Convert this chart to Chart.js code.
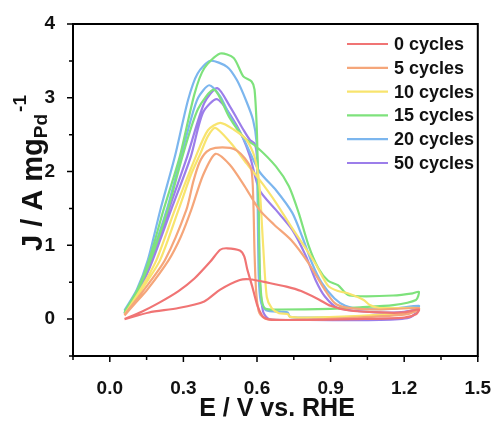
<!DOCTYPE html>
<html>
<head>
<meta charset="utf-8">
<script src="https://cdn.jsdelivr.net/npm/chart.js@4.4.1/dist/chart.umd.min.js"></script>
<style>
  body { margin: 0; background: #fff; }
  #wrap { width: 504px; height: 428px; }
</style>
</head>
<body>
<div id="wrap"><canvas id="cv" width="504" height="428"></canvas></div>
<script>
// CV loops, [E (V vs RHE), J (A/mgPd)] - forward scan then backward scan
const cycles0 = [[0.06,0.00],[0.16,0.09],[0.28,0.15],[0.385,0.24],[0.45,0.40],[0.53,0.53],[0.57,0.54],[0.65,0.49],[0.72,0.44],[0.78,0.38],[0.85,0.27],[0.90,0.18],[0.97,0.12],[1.10,0.09],[1.20,0.09],[1.26,0.13],
  [1.25,0.07],[1.20,0.02],[1.00,0.00],[0.80,-0.01],[0.66,-0.01],[0.635,0.01],[0.62,0.05],[0.60,0.20],[0.58,0.45],[0.56,0.68],[0.548,0.85],[0.53,0.93],[0.478,0.96],[0.45,0.94],[0.41,0.78],[0.345,0.55],[0.28,0.38],[0.20,0.22],[0.13,0.10],[0.06,0.00]];
const cycles5 = [[0.06,0.05],[0.10,0.20],[0.153,0.40],[0.24,0.80],[0.29,1.12],[0.332,1.48],[0.38,1.95],[0.431,2.24],[0.49,2.09],[0.55,1.80],[0.61,1.48],[0.67,1.28],[0.74,1.07],[0.81,0.76],[0.876,0.40],[0.916,0.22],[0.96,0.16],[1.09,0.13],[1.26,0.15],
  [1.25,0.11],[1.20,0.06],[1.00,0.02],[0.80,-0.01],[0.64,0.00],[0.61,0.08],[0.597,0.35],[0.59,0.90],[0.585,1.60],[0.577,2.03],[0.55,2.18],[0.52,2.28],[0.49,2.32],[0.43,2.32],[0.395,2.27],[0.365,2.12],[0.34,1.86],[0.312,1.48],[0.225,0.80],[0.14,0.40],[0.06,0.06]];
const cycles10 = [[0.06,0.06],[0.13,0.40],[0.205,0.80],[0.28,1.48],[0.33,1.95],[0.37,2.25],[0.40,2.48],[0.431,2.59],[0.505,2.34],[0.557,2.11],[0.61,1.89],[0.677,1.58],[0.74,1.25],[0.80,0.95],[0.84,0.74],[0.89,0.45],[0.93,0.38],[0.97,0.35],[1.035,0.26],[1.06,0.19],[1.10,0.15],[1.26,0.15],
  [1.25,0.11],[1.20,0.08],[1.00,0.04],[0.80,0.02],[0.735,0.03],[0.725,0.07],[0.69,0.08],[0.66,0.15],[0.64,0.30],[0.625,1.00],[0.61,1.80],[0.59,2.20],[0.557,2.43],[0.505,2.57],[0.45,2.66],[0.40,2.56],[0.35,2.20],[0.265,1.48],[0.19,0.80],[0.125,0.40],[0.06,0.06]];
const cycles15 = [[0.06,0.08],[0.116,0.40],[0.166,0.80],[0.236,1.48],[0.30,2.25],[0.36,2.85],[0.425,3.11],[0.49,2.72],[0.55,2.45],[0.597,2.34],[0.677,2.07],[0.73,1.80],[0.77,1.44],[0.81,1.00],[0.85,0.69],[0.89,0.52],[0.93,0.46],[0.97,0.33],[1.02,0.31],[1.155,0.32],[1.235,0.35],[1.26,0.37],
  [1.248,0.26],[1.155,0.19],[1.02,0.16],[0.90,0.14],[0.70,0.13],[0.635,0.14],[0.62,0.25],[0.612,0.60],[0.607,1.50],[0.60,2.50],[0.59,3.11],[0.578,3.22],[0.544,3.29],[0.505,3.54],[0.45,3.60],[0.385,3.40],[0.345,3.05],[0.285,2.20],[0.219,1.48],[0.16,0.80],[0.113,0.40],[0.06,0.10]];
const cycles20 = [[0.06,0.08],[0.115,0.40],[0.163,0.80],[0.232,1.48],[0.29,2.20],[0.33,2.70],[0.36,3.00],[0.405,3.17],[0.45,3.02],[0.49,2.75],[0.544,2.45],[0.61,2.00],[0.677,1.75],[0.744,1.44],[0.784,1.12],[0.824,0.76],[0.864,0.49],[0.916,0.28],[0.96,0.18],[1.02,0.14],[1.15,0.14],[1.26,0.18],
  [1.24,0.12],[1.15,0.06],[1.00,0.03],[0.80,0.02],[0.735,0.03],[0.725,0.09],[0.70,0.10],[0.637,0.12],[0.615,0.25],[0.607,0.60],[0.603,1.50],[0.598,2.40],[0.584,2.70],[0.557,2.95],[0.518,3.24],[0.478,3.42],[0.41,3.50],[0.358,3.33],[0.319,2.97],[0.265,2.20],[0.206,1.48],[0.155,0.80],[0.11,0.40],[0.06,0.12]];
const cycles50 = [[0.06,0.07],[0.122,0.40],[0.175,0.80],[0.25,1.48],[0.33,2.20],[0.38,2.80],[0.438,2.98],[0.518,2.62],[0.57,2.22],[0.61,1.75],[0.677,1.48],[0.744,1.21],[0.80,0.85],[0.84,0.52],[0.876,0.31],[0.93,0.15],[1.09,0.09],[1.20,0.10],[1.26,0.13],
  [1.22,0.02],[1.10,-0.01],[0.80,-0.01],[0.65,0.00],[0.625,0.10],[0.612,0.50],[0.607,1.20],[0.60,2.20],[0.59,2.38],[0.571,2.43],[0.544,2.57],[0.49,2.88],[0.438,3.13],[0.385,2.93],[0.315,2.20],[0.24,1.48],[0.17,0.80],[0.118,0.40],[0.06,0.08]];

const labels = ['0 cycles', '5 cycles', '10 cycles', '15 cycles', '20 cycles', '50 cycles'];
const series = [cycles0, cycles5, cycles10, cycles15, cycles20, cycles50];
const colors = ['#f07474', '#f5a67a', '#f8e46e', '#7ee27c', '#7cb6ee', '#9c7eea'];

const xTicks = [0.0, 0.3, 0.6, 0.9, 1.2, 1.5];
const yTicks = [0, 1, 2, 3, 4];

const FONT = '"Liberation Sans", Arial, sans-serif';

const decor = {
    id: 'decor',
    afterDraw(chart) {
        const { ctx, chartArea: a, scales: { x, y } } = chart;
        ctx.save();
        // frame
        ctx.strokeStyle = '#000';
        ctx.lineWidth = 2;
        ctx.strokeRect(a.left, a.top, a.right - a.left, a.bottom - a.top);
        // ticks (major + minor) outside bottom and left
        ctx.lineWidth = 1.5;
        ctx.beginPath();
        for (let v = -0.15; v <= 1.5001; v += 0.15) {
            const px = x.getPixelForValue(v);
            const major = Math.abs(v / 0.3 - Math.round(v / 0.3)) < 1e-6;
            ctx.moveTo(px, a.bottom);
            ctx.lineTo(px, a.bottom + (major ? 6 : 4));
        }
        for (let v = -0.5; v <= 4.0001; v += 0.5) {
            const py = y.getPixelForValue(v);
            const major = Math.abs(v - Math.round(v)) < 1e-6;
            ctx.moveTo(a.left, py);
            ctx.lineTo(a.left - (major ? 6 : 4), py);
        }
        ctx.stroke();

        // x title
        ctx.fillStyle = '#111';
        ctx.font = 'bold 25px ' + FONT;
        ctx.textAlign = 'center';
        ctx.textBaseline = 'alphabetic';
        ctx.fillText('E / V vs. RHE', 277, 416);

        // y title with sub/superscript
        ctx.save();
        ctx.translate(42, 173);
        ctx.rotate(-Math.PI / 2);
        const main = 'J / A mg', sub = 'Pd', sup = '-1';
        ctx.font = 'bold 29px ' + FONT;
        const wMain = ctx.measureText(main).width;
        ctx.font = 'bold 19px ' + FONT;
        const wSub = ctx.measureText(sub).width;
        const wSup = ctx.measureText(sup).width;
        let sx = -(wMain + wSub + wSup + 2) / 2;
        ctx.textAlign = 'left';
        ctx.font = 'bold 29px ' + FONT;
        ctx.fillText(main, sx, 0);
        sx += wMain;
        ctx.font = 'bold 19px ' + FONT;
        ctx.fillText(sub, sx, 5);
        sx += wSub + 2;
        ctx.fillText(sup, sx, -16);
        ctx.restore();

        // legend
        ctx.font = 'bold 18px ' + FONT;
        ctx.textAlign = 'left';
        ctx.textBaseline = 'middle';
        chart.data.datasets.forEach((ds, i) => {
            const cy = 44 + i * 23.8;
            ctx.strokeStyle = ds.borderColor;
            ctx.lineWidth = 2.2;
            ctx.beginPath();
            ctx.moveTo(347, cy);
            ctx.lineTo(388, cy);
            ctx.stroke();
            ctx.fillStyle = '#111';
            ctx.fillText(ds.label, 394, cy + 1);
        });
        ctx.restore();
    }
};

new Chart(document.getElementById('cv'), {
    type: 'scatter',
    data: {
        datasets: series.map((s, i) => ({
            label: labels[i],
            data: s.map(p => ({ x: p[0], y: p[1] })),
            showLine: true,
            borderColor: colors[i],
            borderWidth: 2.2,
            pointRadius: 0,
            tension: 0.25,
            fill: false
        }))
    },
    options: {
        responsive: false,
        animation: false,
        layout: { padding: { top: 24, right: 17, left: 0, bottom: 0 } },
        plugins: { legend: { display: false }, tooltip: { enabled: false } },
        scales: {
            x: {
                type: 'linear',
                min: -0.15,
                max: 1.5,
                grid: { display: false },
                border: { display: false },
                afterBuildTicks: s => { s.ticks = xTicks.map(v => ({ value: v })); },
                afterFit: s => { s.height = 72; },
                ticks: {
                    padding: 13,
                    color: '#111',
                    font: { family: FONT, size: 19, weight: 'bold' },
                    callback: v => Number(v).toFixed(1)
                }
            },
            y: {
                type: 'linear',
                min: -0.5,
                max: 4,
                grid: { display: false },
                border: { display: false },
                afterBuildTicks: s => { s.ticks = yTicks.map(v => ({ value: v })); },
                afterFit: s => { s.width = 73; },
                ticks: {
                    padding: 10,
                    color: '#111',
                    font: { family: FONT, size: 19, weight: 'bold' },
                    callback: v => String(v)
                }
            }
        }
    },
    plugins: [decor]
});
</script>
</body>
</html>
